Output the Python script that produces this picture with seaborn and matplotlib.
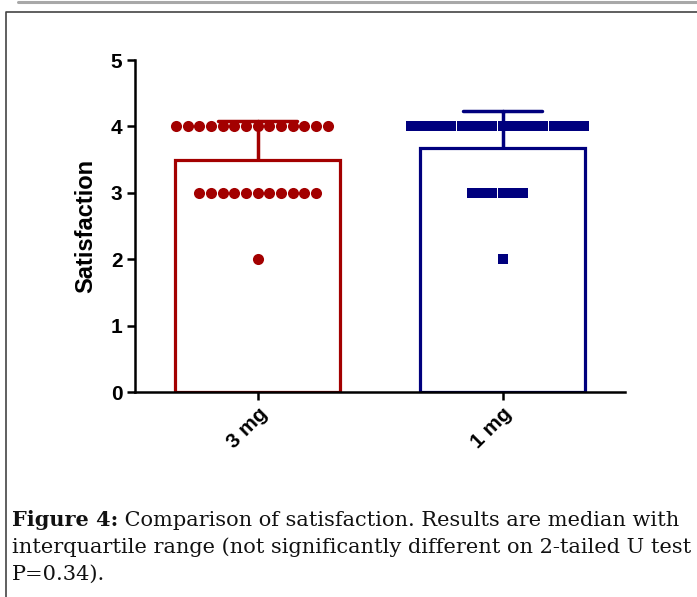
import numpy as np
import pandas as pd
import matplotlib
matplotlib.use('Agg')
import matplotlib.pyplot as plt
from matplotlib.lines import Line2D
import seaborn as sns

# Satisfaction scores per dose group (counts of patients at each level)
groups = ['3 mg', '1 mg']
levels = [4, 3, 2]
counts_3mg = [14, 11, 1]
counts_1mg = [18, 6, 1]
colors = ['#a30000', '#00007e']
markers = ['o', 's']

rows = []
for g, cnts in zip(groups, [counts_3mg, counts_1mg]):
    for v in np.repeat(levels, cnts):
        rows.append({'group': g, 'score': v})
df = pd.DataFrame(rows)

sns.set_style('ticks')
plt.rcParams['font.family'] = ['Liberation Sans', 'DejaVu Sans']
plt.rcParams['text.color'] = 'black'
plt.rcParams['axes.labelcolor'] = 'black'
plt.rcParams['xtick.color'] = 'black'
plt.rcParams['ytick.color'] = 'black'

fig = plt.figure(figsize=(6.97, 5.97), dpi=100)
ax = fig.add_axes([135 / 697, 1 - 392 / 597, 490 / 697, 332 / 597])

sns.barplot(data=df, x='group', y='score', hue='group', order=groups,
            palette=colors, legend=False, width=0.67, errorbar='sd',
            capsize=0.32, err_kws={'linewidth': 2.5, 'zorder': 0.5}, ax=ax)

# GraphPad-style open bars: white face, coloured outline
for patch, col in zip(ax.patches, colors):
    patch.set_facecolor('white')
    patch.set_edgecolor(col)
    patch.set_linewidth(2.3)

err_lines = sorted(ax.lines, key=lambda l: np.nanmean(l.get_xdata()))
for line, col in zip(err_lines, colors):
    line.set_color(col)

for g, col, m in zip(groups, colors, markers):
    sub = df[df['group'] == g]
    sns.swarmplot(data=sub, x='group', y='score', order=groups, color=col,
                  marker=m, size=8 if m == 'o' else 7, zorder=3, ax=ax,
                  warn_thresh=1)

ax.set_xlim(-0.5, 1.5)
ax.set_ylim(0, 5)
ax.set_yticks([0, 1, 2, 3, 4, 5])
ax.set_xlabel('')
ax.set_ylabel('Satisfaction', fontsize=17, fontweight='bold', labelpad=10)
sns.despine(ax=ax)
for s in ['left', 'bottom']:
    ax.spines[s].set_linewidth(1.8)
    ax.spines[s].set_color('black')
ax.tick_params(axis='both', width=1.8, length=6, color='black',
               labelcolor='black', labelsize=15, pad=3)
for t in ax.get_yticklabels():
    t.set_fontweight('bold')
for t in ax.get_xticklabels():
    t.set_fontweight('bold')
    t.set_rotation(45)
    t.set_ha('right')
    t.set_rotation_mode('anchor')

# page decoration: grey rule at top and figure frame
fig.add_artist(Line2D([18 / 697, 1], [1 - 1.5 / 597, 1 - 1.5 / 597],
                      transform=fig.transFigure, color='#a8a8a8', lw=2.2))
fig.add_artist(Line2D([6 / 697, 6 / 697, 1], [0, 1 - 12 / 597, 1 - 12 / 597],
                      transform=fig.transFigure, color='#444444', lw=1.2))

# caption
cap_kw = dict(fontsize=15, family='DejaVu Serif', va='bottom', color='#111111')
bold = fig.text(12 / 697, 1 - 530 / 597, 'Figure 4:', fontweight='bold', **cap_kw)
ax.annotate(' Comparison of satisfaction. Results are median with',
            xy=(1, 0), xycoords=bold, **cap_kw)
fig.text(12 / 697, 1 - 557 / 597,
         'interquartile range (not significantly different on 2-tailed U test',
         **cap_kw)
fig.text(12 / 697, 1 - 584 / 597, 'P=0.34).', **cap_kw)

fig.savefig('out.png', dpi=100, facecolor='white')
